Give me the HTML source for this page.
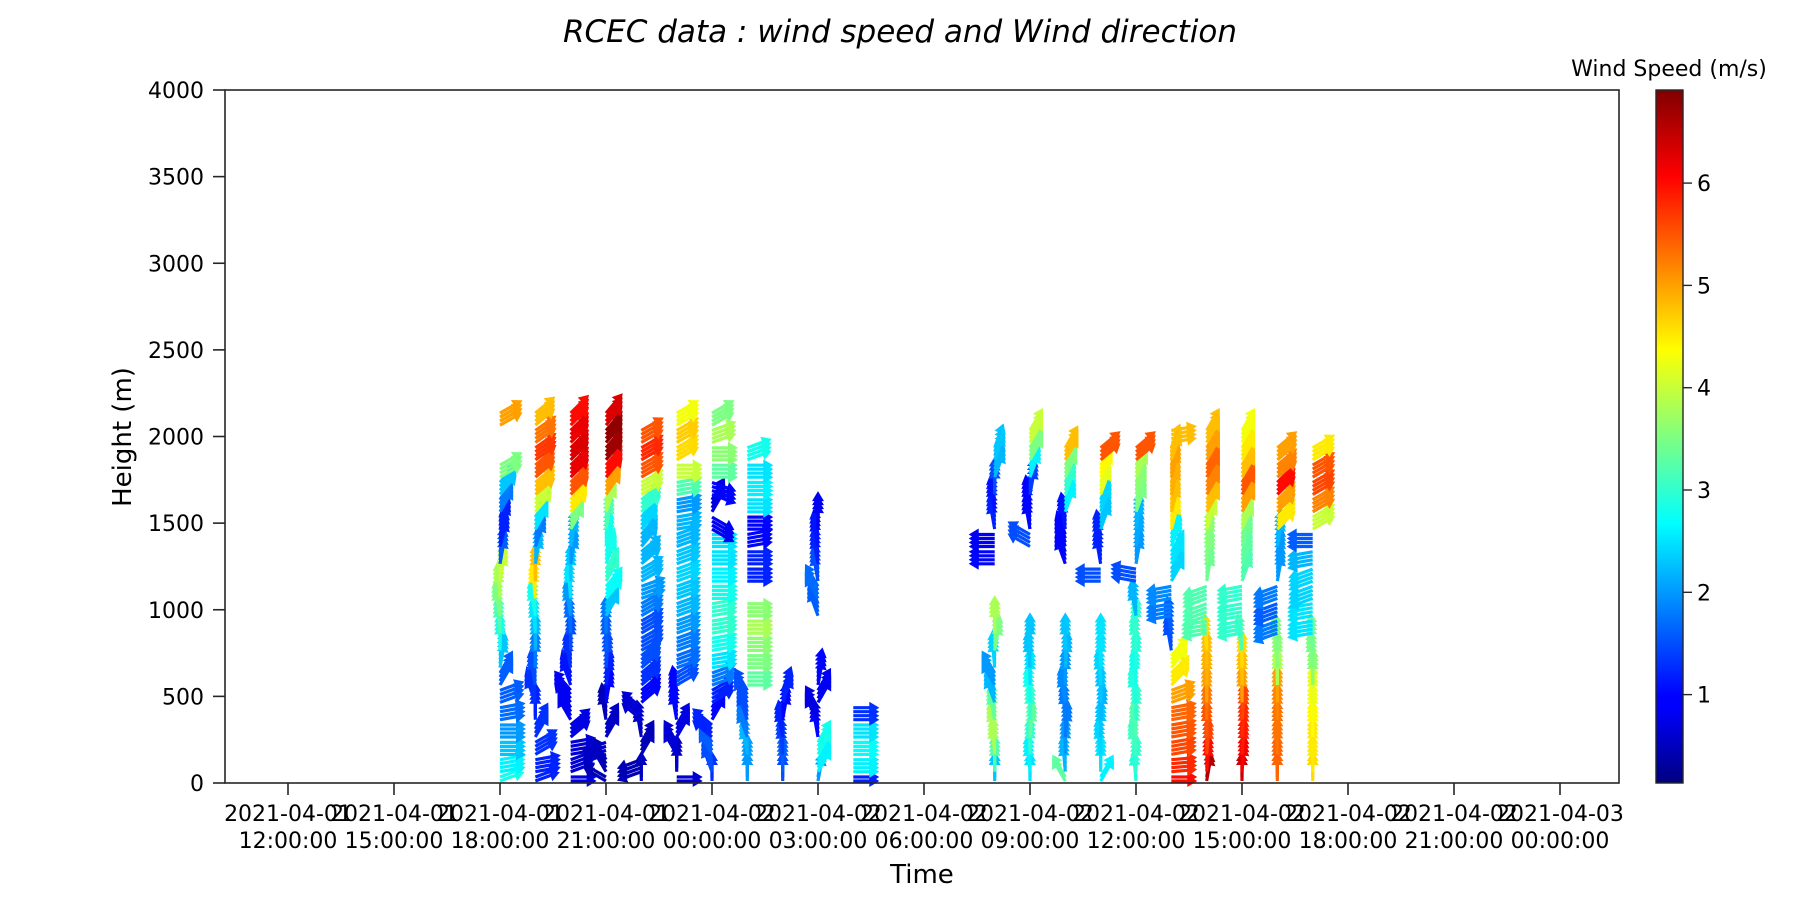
<!DOCTYPE html>
<html><head><meta charset="utf-8">
<style>
html,body{margin:0;padding:0;background:#fff;}
svg{display:block;font-family:"DejaVu Sans","Liberation Sans",sans-serif;}
</style></head>
<body>
<svg id="chart" width="1800" height="900" viewBox="0 0 1800 900" xmlns="http://www.w3.org/2000/svg">
<defs>
<linearGradient id="jet" x1="0" y1="1" x2="0" y2="0">
<stop offset="0" stop-color="#000080"/><stop offset="0.11" stop-color="#0000ff"/><stop offset="0.125" stop-color="#0000ff"/>
<stop offset="0.375" stop-color="#00ffff"/><stop offset="0.625" stop-color="#ffff00"/><stop offset="0.875" stop-color="#ff0000"/><stop offset="1" stop-color="#800000"/>
</linearGradient>
</defs>
<text x="900" y="42" text-anchor="middle" font-size="31" font-style="italic">RCEC data : wind speed and Wind direction</text>
<g id="marks"></g>
<rect x="225" y="90" width="1394" height="693" fill="none" stroke="#262626" stroke-width="1.6"/>
<g id="xaxis"></g>
<g id="yaxis"></g>
<text x="922" y="883" text-anchor="middle" font-size="26">Time</text>
<text transform="translate(131,437) rotate(-90)" text-anchor="middle" font-size="26">Height (m)</text>
<rect x="1656" y="90" width="27" height="693" fill="url(#jet)" stroke="#262626" stroke-width="1.4"/>
<g id="cbar"></g>
<text x="1669" y="76" text-anchor="middle" font-size="22">Wind Speed (m/s)</text>
</svg>
<script>
// ---- data ----
const levels = [0,100,200,300,400,500,600,700,800,900,1000,1100,1200,1300,1400,1500,1600,1700,1800,1900,2000,2100,2200];
const times = [6,7,8,9,10,11,12,13,14,15,16,20,21,22,23,24,25,26,27,28,29]; // hours after 2021-04-01 12:00
const N = null;
const speeds = [
[2.8,2.6,2.3,2.0,1.7,1.6,1.6,2.3,2.8,3.2,3.5,3.8,4.0,1.6,1.2,1.2,1.8,2.3,3.5,N,N,5.0,N],
[1.2,1.2,1.3,1.3,1.2,1.3,1.5,1.8,2.2,2.5,2.8,4.5,4.8,2.2,1.8,2.5,4.0,4.8,5.5,5.7,5.3,4.8,N],
[0.8,0.7,0.7,0.8,0.9,0.9,1.1,1.3,1.5,1.7,2.0,2.5,2.3,2.0,2.2,3.5,4.5,5.5,6.2,6.3,6.2,6.0,N],
[0.5,0.5,0.6,0.6,0.5,1.0,1.2,1.5,1.6,1.8,2.3,2.7,3.0,2.8,2.8,3.2,3.8,5.0,6.0,6.7,6.8,6.3,N],
[0.6,0.5,0.5,0.6,0.7,1.0,1.3,1.5,1.5,1.5,1.8,2.0,2.2,2.2,2.2,2.4,3.0,4.0,5.5,5.8,5.5,N,N],
[0.7,0.6,0.7,0.8,1.0,1.0,1.5,1.7,1.8,2.0,2.2,2.3,2.4,2.3,2.2,2.2,2.0,3.2,4.0,4.6,4.7,4.3,N],
[1.3,1.5,1.6,1.2,1.0,1.2,1.8,2.5,2.8,3.0,3.0,2.8,2.6,2.5,2.5,0.9,0.8,1.0,3.3,3.6,3.8,3.5,N],
[2.0,2.0,2.2,1.8,1.5,1.5,3.3,3.5,3.6,3.8,3.6,N,1.2,1.2,1.0,1.0,2.5,2.6,2.5,2.8,N,N,N],
[1.5,1.6,1.4,1.2,1.0,1.2,N,N,N,N,N,N,N,N,N,N,N,N,N,N,N,N,N],
[2.0,2.6,2.8,1.0,0.8,0.9,1.0,N,N,N,1.6,1.7,1.5,1.2,1.1,0.9,N,N,N,N,N,N,N],
[1.2,2.6,2.7,2.5,1.3,N,N,N,N,N,N,N,N,N,N,N,N,N,N,N,N,N,N],
[2.3,3.2,3.8,3.8,3.3,2.2,2.0,2.4,3.5,3.8,N,N,N,1.0,0.9,1.2,1.1,1.5,2.2,2.3,N,N,N],
[2.5,2.6,3.0,3.3,3.0,2.8,2.5,2.3,2.3,N,N,N,N,N,1.5,1.0,1.0,1.4,2.6,3.5,4.0,N,N],
[3.3,2.2,2.0,1.8,1.8,1.9,2.0,2.2,2.3,N,N,N,N,1.0,1.0,1.1,2.6,3.0,3.5,4.8,N,N,N],
[2.6,2.5,2.4,2.3,2.2,2.3,2.4,2.5,2.5,N,N,N,1.5,1.2,1.2,2.3,2.4,4.2,4.4,5.5,N,N,N],
[2.9,3.0,3.1,3.2,3.0,2.9,2.8,2.9,3.0,3.0,2.2,N,1.5,2.0,2.1,2.2,3.5,3.6,3.8,5.5,N,N,N],
[6.0,5.8,5.6,5.5,5.4,5.0,4.5,4.3,1.5,1.6,1.8,1.9,2.4,2.5,2.6,4.5,4.8,4.9,5.0,4.8,4.8,N,N],
[6.6,6.0,5.6,5.5,5.3,5.0,4.9,4.8,4.6,3.2,3.2,3.2,3.4,3.5,3.6,4.0,4.8,5.2,5.4,5.0,4.8,N,N],
[6.4,6.1,5.9,5.8,5.6,5.0,4.8,4.6,3.2,3.0,3.0,3.0,3.2,3.3,3.4,3.8,5.0,5.5,4.8,4.5,4.3,N,N],
[5.4,5.4,5.3,5.3,5.2,5.0,3.8,3.6,3.5,1.8,1.6,1.8,2.0,2.0,2.2,4.5,5.0,6.0,5.2,5.0,N,N,N],
[4.6,4.5,4.5,4.4,4.3,4.2,3.6,3.5,3.4,2.5,2.5,2.4,2.4,2.2,1.6,4.0,5.2,5.6,5.5,4.5,N,N,N]
];
const dirs = [
[20,10,0,0,10,20,60,80,90,95,100,95,80,80,75,70,60,50,30,N,N,30,N],
[20,10,30,60,90,110,100,90,90,95,100,95,90,80,70,60,50,40,40,35,35,40,N],
[0,20,10,40,120,130,110,100,90,95,100,95,90,80,80,60,50,45,45,45,45,45,N],
[150,120,200,60,100,80,80,85,90,90,60,50,60,70,80,80,70,55,50,50,50,50,N],
[90,200,60,100,140,40,40,40,30,30,30,20,30,40,50,50,40,30,30,30,30,N,N],
[0,90,120,60,100,100,30,20,20,20,20,20,20,20,20,10,10,10,0,30,30,30,N],
[90,110,120,140,60,30,20,10,10,10,10,0,0,0,0,-30,60,-20,0,0,20,30,N],
[90,90,100,110,110,120,0,0,0,0,0,N,0,0,10,0,0,0,0,20,N,N,N],
[90,90,95,100,80,70,N,N,N,N,N,N,N,N,N,N,N,N,N,N,N,N,N],
[80,60,60,100,120,60,80,N,N,N,110,120,100,100,100,90,N,N,N,N,N,N,N],
[0,0,0,0,0,N,N,N,N,N,N,N,N,N,N,N,N,N,N,N,N,N,N],
[90,90,95,100,100,110,120,95,80,90,N,N,N,180,180,100,100,90,70,70,N,N,N],
[90,95,90,85,90,95,90,95,90,N,N,N,N,N,150,100,100,80,70,60,60,N,N],
[120,95,90,85,95,100,90,85,90,N,N,N,N,110,110,100,70,70,65,60,N,N,N],
[60,90,95,90,85,90,95,90,90,N,N,N,180,100,100,70,70,70,65,40,N,N,N],
[95,90,100,95,90,100,95,90,95,90,100,N,170,80,80,80,70,70,65,40,N,N,N],
[0,5,10,10,10,20,45,50,100,100,190,190,60,60,70,75,75,75,75,70,10,N,N],
[80,85,85,90,90,90,90,90,95,190,200,200,80,80,80,70,60,60,60,60,60,N,N],
[90,85,85,85,85,90,90,90,100,190,190,190,70,70,70,65,60,60,60,60,60,N,N],
[90,90,90,90,90,90,90,90,95,200,200,200,80,80,80,45,45,45,40,40,N,N,N],
[90,90,90,90,90,90,90,95,95,190,190,200,200,190,180,30,30,30,30,30,N,N,N]
];
const xTickHours = [0,3,6,9,12,15,18,21,24,27,30,33,36];
const xTickLabels = [["2021-04-01","12:00:00"],["2021-04-01","15:00:00"],["2021-04-01","18:00:00"],["2021-04-01","21:00:00"],["2021-04-02","00:00:00"],["2021-04-02","03:00:00"],["2021-04-02","06:00:00"],["2021-04-02","09:00:00"],["2021-04-02","12:00:00"],["2021-04-02","15:00:00"],["2021-04-02","18:00:00"],["2021-04-02","21:00:00"],["2021-04-03","00:00:00"]];
const yTicks = [0,500,1000,1500,2000,2500,3000,3500,4000];
const cbarTicks = [1,2,3,4,5,6];
const vmin = 0.136, vmax = 6.91;

// ---- scales ----
const X = h => 288 + h * (106/3);
const Y = m => 783 - m * (693/4000);
const CB = v => 783 - (v - vmin) / (vmax - vmin) * 693;
const NS = "http://www.w3.org/2000/svg";
function mk(tag, attrs, parent){ const e=document.createElementNS(NS,tag); for(const k in attrs) e.setAttribute(k,attrs[k]); parent.appendChild(e); return e; }
function jet(v){
  let x=(v-vmin)/(vmax-vmin); x=Math.max(0,Math.min(1,x));
  const c=t=>Math.round(255*Math.max(0,Math.min(1,1.5-Math.abs(4*x-t))));
  return `rgb(${c(3)},${c(2)},${c(1)})`;
}

// ---- arrows: unit-length direction glyphs coloured by speed, stacked within each height bin ----
const marks = document.getElementById('marks');
const stackOffsets = [-6,-2,2,6];
times.forEach((t,ci)=>{
  levels.forEach((h,li)=>{
    const s = speeds[ci][li], d = dirs[ci][li];
    if(s===null || d===null) return;
    const L = 26, hl = 10, hw = 6, sw = 1.6;
    const pts = [[0,-sw],[L-hl,-sw],[L-hl,-hw],[L,0],[L-hl,hw],[L-hl,sw],[0,sw]];
    const a = -d*Math.PI/180, ca=Math.cos(a), sa=Math.sin(a);
    stackOffsets.forEach(off=>{
      const x0 = X(t), y0 = Y(h) + off;
      if (y0 > 783) return;
      const p = pts.map(([u,v])=>`${(x0+u*ca-v*sa).toFixed(1)},${(y0+u*sa+v*ca).toFixed(1)}`).join(' ');
      const el = mk('polygon',{points:p, fill:jet(s)}, marks);
      
      
    });
  });
});

// ---- x axis ----
const xg = document.getElementById('xaxis');
xTickHours.forEach((hr,i)=>{
  const x = X(hr);
  const tk = mk('line',{x1:x,y1:783,x2:x,y2:795,stroke:'#262626','stroke-width':1.6}, xg);
  
  
  const tx = mk('text',{x:x,y:821,'text-anchor':'middle','font-size':22}, xg);
  
  
  mk('tspan',{x:x},tx).textContent = xTickLabels[i][0];
  mk('tspan',{x:x,dy:27},tx).textContent = xTickLabels[i][1];
});
// ---- y axis ----
const yg = document.getElementById('yaxis');
yTicks.forEach(v=>{
  const y = Y(v);
  const tk = mk('line',{x1:213,y1:y,x2:225,y2:y,stroke:'#262626','stroke-width':1.6}, yg);
  
  
  const tx = mk('text',{x:204,y:y+8,'text-anchor':'end','font-size':22}, yg);
  
  
  tx.textContent = v;
});
// ---- colorbar ----
const cg = document.getElementById('cbar');
cbarTicks.forEach(v=>{
  const y = CB(v);
  const tk = mk('line',{x1:1683,y1:y,x2:1692,y2:y,stroke:'#262626','stroke-width':1.4}, cg);
  
  
  const tx = mk('text',{x:1697,y:y+8,'font-size':22}, cg);
  
  
  tx.textContent = v;
});
</script>
</body></html>
